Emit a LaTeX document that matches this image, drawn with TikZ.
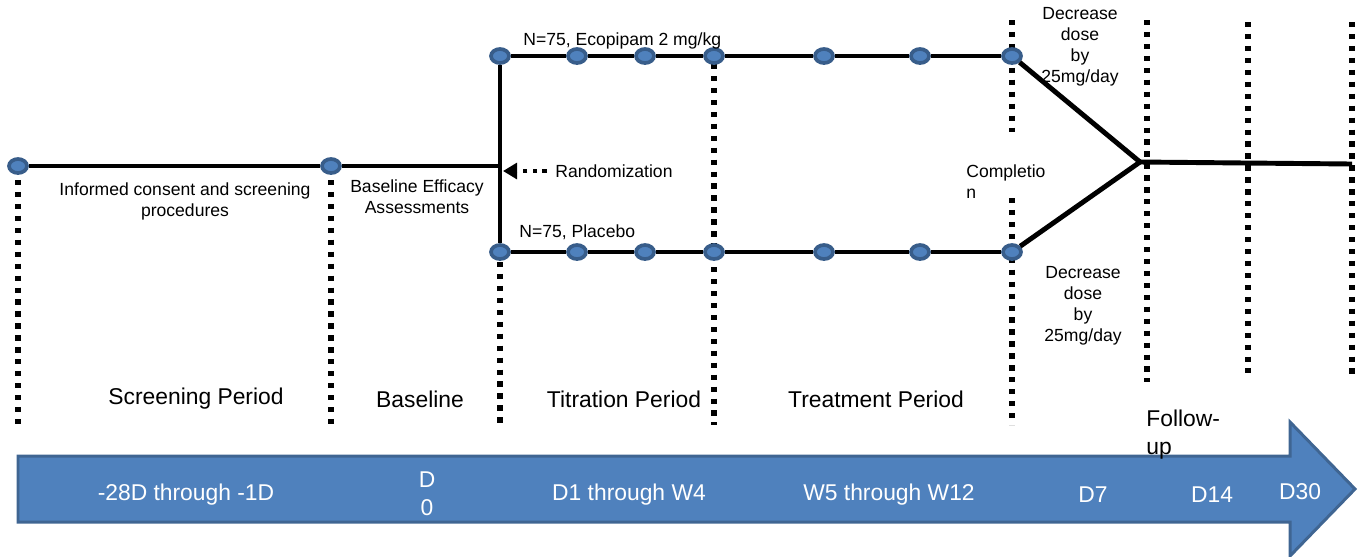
\documentclass[tikz,border=0pt]{standalone}
\usepackage{fontspec}
\setmainfont{Liberation Sans}
\usetikzlibrary{arrows.meta,shapes,calc}
\definecolor{dotblue}{HTML}{4F81BD}
\definecolor{dotedge}{HTML}{385D8A}
\definecolor{arrowedge}{HTML}{3F6592}

\begin{document}
\begin{tikzpicture}[x=0.02cm,y=-0.02cm,
    visit/.style={ellipse,draw=dotedge,fill=dotblue,line width=2.1pt,minimum width=0.36cm,minimum height=0.28cm,inner sep=0pt},
    track/.style={line width=2.8pt},
    period/.style={line width=3pt,dash pattern=on 3pt off 3.8pt},
    small/.style={font=\fontsize{10}{12}\selectfont,inner sep=0pt,align=center},
    big/.style={font=\fontsize{13}{15.9}\selectfont,inner sep=0pt,align=center}]
  \useasboundingbox (0,0) rectangle (1358,556);

  % timeline arrow
  \draw[draw=arrowedge,fill=dotblue,line width=1.7pt,line join=miter]
    (18,456) -- (1290,456) -- (1290,422) -- (1355,489) -- (1290,556) -- (1290,522) -- (18,522) -- cycle;

  % period separators
  \foreach \x/\ya/\yb in {18/180/425, 331/180/425, 500/262/425, 714/64/425,
                          1012/20/132, 1012/198/425, 1147/20/382, 1248/22/373, 1352/22/375}
    \draw[period] (\x,\ya) -- (\x,\yb);

  % visits
  \node[visit] (s0) at (18,166) {};
  \node[visit] (s1) at (331,166) {};
  \coordinate (r0) at (500,166);
  \foreach \i/\x in {0/500,1/577,2/645,3/714,4/824,5/920,6/1012} {
    \node[visit] (t\i) at (\x,56) {};
    \node[visit] (b\i) at (\x,252) {};
  }
  \coordinate (m) at (1140,162);
  \coordinate (e) at (1352,164);

  % arms
  \draw[track] (s0) -- (s1) -- (r0);
  \draw[track] (t0) -- (b0);
  \draw[track] (t0) -- (t1) -- (t2) -- (t3) -- (t4) -- (t5) -- (t6);
  \draw[track] (b0) -- (b1) -- (b2) -- (b3) -- (b4) -- (b5) -- (b6);
  \draw[track] (t6) -- (m);
  \draw[track] (b6) -- (m);
  \draw[track] (m) -- (e);

  % labels
  \node[small] (icf) at (185,201) {Informed consent and screening\\procedures};
  \node[small] (bea) at (417,197) {Baseline Efficacy\\Assessments};
  \node[small,anchor=west] (eco) at (523,41) {N=75, Ecopipam 2 mg/kg};
  \node[small,anchor=west] (plc) at (519,232) {N=75, Placebo};
  \node[small,anchor=west] (rand) at (555,171) {Randomization};
  \coordinate (r1) at (503,171);
  \draw[line width=2.6pt,dash pattern=on 2.6pt off 3pt,-{Triangle[length=8pt,width=9pt]}] ($(rand.west)+(-8,0)$) -- (r1);
  \node[small] (dtop) at (1080,47) {Decrease\\dose\\by\\25mg/day};
  \node[small] (dbot) at (1083,306) {Decrease\\dose\\by\\25mg/day};
  \node[small,align=left,anchor=west] (cmp) at (966,182) {Completio\\n};

  \node[big] (scr) at (196,399) {Screening Period};
  \node[big] (bsl) at (420,399) {Baseline};
  \node[big] (tit) at (624,399) {Titration Period};
  \node[big] (trt) at (876,399) {Treatment Period};
  \node[big,align=left,anchor=west] (fu) at (1146,435) {Follow-\\up};

  % arrow labels
  \node[big,text=white] (d1) at (186,495) {-28D through -1D};
  \node[big,text=white] (d2) at (427,494) {D\\0};
  \node[big,text=white] (d3) at (629,495) {D1 through W4};
  \node[big,text=white] (d4) at (889,495) {W5 through W12};
  \node[big,text=white] (d5) at (1093,495) {D7};
  \node[big,text=white] (d6) at (1212,495) {D14};
  \node[big,text=white] (d7) at (1300,492) {D30};
\end{tikzpicture}
\end{document}
